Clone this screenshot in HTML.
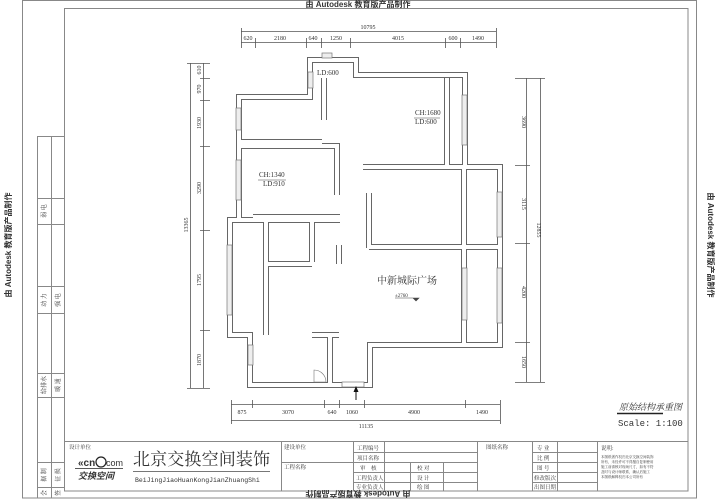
<!DOCTYPE html>
<html><head><meta charset="utf-8"><style>
html,body{margin:0;padding:0;background:#fff;}
svg{display:block;}
text{font-family:"Liberation Serif","Noto Serif CJK SC",serif;fill:#333;}
.s{font-family:"Liberation Sans","Noto Sans CJK SC",sans-serif;}
</style></head><body>
<svg width="717" height="500" viewBox="0 0 717 500" xmlns="http://www.w3.org/2000/svg">
<g fill="none" stroke="#888" stroke-width="1">
<rect x="22.5" y="0.5" width="674" height="497.5"/>
<rect x="64.5" y="8.5" width="623.5" height="482.5"/>
<path d="M37.5 136V498M51.5 136V498M37.5 136.5H64M37.5 198.5H64M37.5 224.5H64M37.5 286.5H64M37.5 313.5H64M37.5 373.5H64M37.5 397.5H64M37.5 462.5H64M37.5 487.5H64"/>
<path d="M64 441.5H688M281.5 441V491M353.5 441V491M384.5 441V491M410.5 462V491M443.5 462V491M477.5 441V491M532.5 441V491M557.5 441V491M597.5 441V491"/>
<path d="M353 452.5H477M281 462.5H477M353 472.5H477M353 482.5H477M532 452.5H597M532 462.5H597M532 472.5H597M532 482.5H597"/>
</g>
<g stroke="#555" stroke-width="0.8" fill="none">
<path d="M241 31.5H496M241 42.5H496"/>
<path d="M241.5 28V48M255.5 38V48M306.5 38V48M321.5 38V48M350.5 38V48M445.5 38V48M460.5 38V48M496.5 28V48"/>
<path d="M190.5 63V388M203.5 63V388"/>
<path d="M187 63.5H210M200 78.5H210M200 100.5H210M200 146.5H210M200 230.5H210M200 330.5H210M187 388.5H210"/>
<path d="M526.5 78V382M540.5 78V382"/>
<path d="M515 78.5H545M515 165.5H530M515 243.5H530M515 342.5H530M515 382.5H545"/>
<path d="M231 404.5H500M231 420.5H500"/>
<path d="M231.5 400V424M252.5 400V408M324.5 400V408M339.5 400V408M364.5 400V408M465.5 400V408M500.5 400V424"/>
</g>
<g font-size="6" fill="#444">
<text x="368" y="29" text-anchor="middle">10795</text>
<text x="248" y="40" text-anchor="middle">620</text>
<text x="280" y="40" text-anchor="middle">2180</text>
<text x="313" y="40" text-anchor="middle">640</text>
<text x="336" y="40" text-anchor="middle">1250</text>
<text x="398" y="40" text-anchor="middle">4015</text>
<text x="453" y="40" text-anchor="middle">600</text>
<text x="478" y="40" text-anchor="middle">1490</text>
<text x="242" y="414" text-anchor="middle">875</text>
<text x="288" y="414" text-anchor="middle">3070</text>
<text x="332" y="414" text-anchor="middle">640</text>
<text x="352" y="414" text-anchor="middle">1060</text>
<text x="414" y="414" text-anchor="middle">4900</text>
<text x="482" y="414" text-anchor="middle">1490</text>
<text x="366" y="428" text-anchor="middle">11135</text>
<g transform="rotate(-90)">
<text x="-70" y="201" text-anchor="middle">610</text>
<text x="-89" y="201" text-anchor="middle">970</text>
<text x="-123" y="201" text-anchor="middle">1930</text>
<text x="-188" y="201" text-anchor="middle">3290</text>
<text x="-280" y="201" text-anchor="middle">1795</text>
<text x="-360" y="201" text-anchor="middle">1870</text>
<text x="-225" y="188" text-anchor="middle">13365</text>
</g>
<g transform="rotate(90)">
<text x="122" y="-522" text-anchor="middle">3690</text>
<text x="204" y="-522" text-anchor="middle">3115</text>
<text x="292" y="-522" text-anchor="middle">4200</text>
<text x="362" y="-522" text-anchor="middle">1650</text>
<text x="230" y="-537" text-anchor="middle">12855</text>
</g>
</g>
<g fill="none" stroke-linejoin="miter">
<g stroke="#666" stroke-width="6">
<path d="M310 97V60H356V75H465V167H500V345H370V385H250V335H230V220H239V97Z"/>
<path d="M239 142H322M324 78V120"/>
<path d="M239 146H337V195M253 217H340"/>
<path d="M230 220H340M266 220V335M266 264H312M312 220V262M339 245V264"/>
<path d="M447 78V165M363 167H464M464 167V345M369 193V248M369 247H464M464 247H500"/>
<path d="M312 335H339M330 335V385"/>
</g>
<g stroke="#fff" stroke-width="4">
<path d="M310 97V60H356V75H465V167H500V345H370V385H250V335H230V220H239V97Z"/>
<path d="M239 142H322M324 78V120"/>
<path d="M239 146H337V195M253 217H340"/>
<path d="M230 220H340M266 220V335M266 264H312M312 220V262M339 245V264"/>
<path d="M447 78V165M363 167H464M464 167V345M369 193V248M369 247H464M464 247H500"/>
<path d="M312 335H339M330 335V385"/>
</g>
</g>
<g fill="#eee" stroke="#777" stroke-width="0.7">
<rect x="462" y="95" width="5" height="50"/>
<rect x="497" y="192" width="5" height="45"/>
<rect x="497" y="268" width="5" height="55"/>
<rect x="462" y="268" width="5" height="52"/>
<rect x="236" y="160" width="5" height="40"/>
<rect x="236" y="108" width="5" height="22"/>
<rect x="227" y="245" width="5" height="70"/>
<rect x="248" y="345" width="5" height="20"/>
<rect x="308" y="72" width="5" height="16"/>
<rect x="322" y="53" width="10" height="5"/>
<rect x="342" y="382" width="22" height="5" fill="#fff"/>
</g>
<path d="M314 382V370A12 12 0 0 1 326 382Z" fill="none" stroke="#777" stroke-width="0.6"/>
<path d="M356 400V390" stroke="#111" stroke-width="1"/><path d="M353.5 392L356 386L358.5 392Z" fill="#111"/>
<g fill="#333" font-size="7">
<text x="317" y="75">LD:600</text>
<text x="415" y="115">CH:1680</text>
<text x="415" y="124">LD:600</text>
<text x="259" y="177">CH:1340</text>
<text x="263" y="186">LD:910</text>
</g>
<path d="M414 118H440M258 180H286" stroke="#444" stroke-width="0.5"/>
<text x="377" y="284" font-size="10">中新城际广场</text>
<text x="395" y="297" font-size="5">±2760</text>
<path d="M395 298H414M413 298L419 298L416 301Z" stroke="#444" stroke-width="0.6" fill="#444"/>
<text x="619" y="410" font-size="9" font-style="italic">原始结构承重图</text>
<path d="M617 413.5H663" stroke="#222" stroke-width="1.5"/>
<text x="618" y="426" font-size="9" fill="#333" style="font-family:'Liberation Mono',monospace">Scale: 1:100</text>
<text x="358" y="7" font-size="8" text-anchor="middle" fill="#222" style="font-family:'Liberation Sans','Noto Sans CJK SC',sans-serif;font-weight:bold">由 Autodesk 教育版产品制作</text>
<text transform="translate(358,491) rotate(180)" font-size="8" text-anchor="middle" fill="#222" style="font-family:'Liberation Sans','Noto Sans CJK SC',sans-serif;font-weight:bold">由 Autodesk 教育版产品制作</text>
<text transform="translate(11,245) rotate(-90)" font-size="8" text-anchor="middle" fill="#222" style="font-family:'Liberation Sans','Noto Sans CJK SC',sans-serif;font-weight:bold">由 Autodesk 教育版产品制作</text>
<text transform="translate(708,245) rotate(90)" font-size="8" text-anchor="middle" fill="#222" style="font-family:'Liberation Sans','Noto Sans CJK SC',sans-serif;font-weight:bold">由 Autodesk 教育版产品制作</text>
<g font-size="6" style="font-family:'Liberation Sans','Noto Sans CJK SC',sans-serif" fill="#333">
<g transform="rotate(-90)">
<text x="-211" y="46" text-anchor="middle">弱 电</text>
<text x="-300" y="46" text-anchor="middle">动 力</text>
<text x="-300" y="60" text-anchor="middle">强 电</text>
<text x="-385" y="46" text-anchor="middle">给排水</text>
<text x="-385" y="60" text-anchor="middle">暖 通</text>
<text x="-475" y="46" text-anchor="middle">据 制</text>
<text x="-475" y="60" text-anchor="middle">征 损</text>
<text x="-493" y="46" text-anchor="middle">会</text>
<text x="-493" y="60" text-anchor="middle">签</text>
</g>
</g>
<g font-size="5.5" style="font-family:'Liberation Sans','Noto Sans CJK SC',sans-serif" fill="#333">
<text x="69" y="449">设计单位</text>
<text x="284" y="449">建设单位</text>
<text x="284" y="469">工程名称</text>
<text x="357" y="450">工程编号</text>
<text x="357" y="460">项目名称</text>
<text x="360" y="470">审　核</text>
<text x="356" y="480">工程负责人</text>
<text x="356" y="489">专业负责人</text>
<text x="417" y="470">校 对</text>
<text x="417" y="480">设 计</text>
<text x="417" y="489">绘 图</text>
<text x="486" y="449">图纸名称</text>
<text x="537" y="450">专 业</text>
<text x="537" y="460">比 例</text>
<text x="537" y="470">图 号</text>
<text x="534" y="480">修改版次</text>
<text x="534" y="489">出图日期</text>
<text x="601" y="450">说明:</text>
<g font-size="3.5"><text x="601" y="458">本图纸著作权归北京交换空间装饰</text><text x="601" y="463">所有，未经许可不得擅自复制使用</text><text x="601" y="468">施工前请核对现场尺寸，如有不符</text><text x="601" y="473">及时与设计师联系，确认后施工</text><text x="601" y="478">本图纸解释权归本公司所有</text></g>
</g>
<text x="78" y="466" font-size="10" font-weight="bold" style="font-family:'Liberation Sans',sans-serif" fill="#222">«cn</text>
<circle cx="101" cy="462" r="5" fill="none" stroke="#222" stroke-width="1.2"/>
<text x="106" y="466" font-size="9" style="font-family:'Liberation Sans',sans-serif" fill="#222">com</text>
<path d="M75 468.5H123" stroke="#222" stroke-width="0.8"/>
<text x="78" y="479" font-size="9" font-weight="bold" font-style="italic" fill="#111" style="font-family:'Liberation Sans','Noto Sans CJK SC',sans-serif">交换空间</text>
<text x="133" y="465" font-size="17" fill="#222" textLength="137" style="font-family:'Liberation Serif','Noto Serif CJK SC',serif">北京交换空间装饰</text>
<path d="M133 471.5H270" stroke="#777" stroke-width="1"/>
<text x="135" y="482" font-size="6.5" fill="#333" style="font-family:'Liberation Mono',monospace">BeiJingJiaoHuanKongJianZhuangShi</text>
</svg>
</body></html>
